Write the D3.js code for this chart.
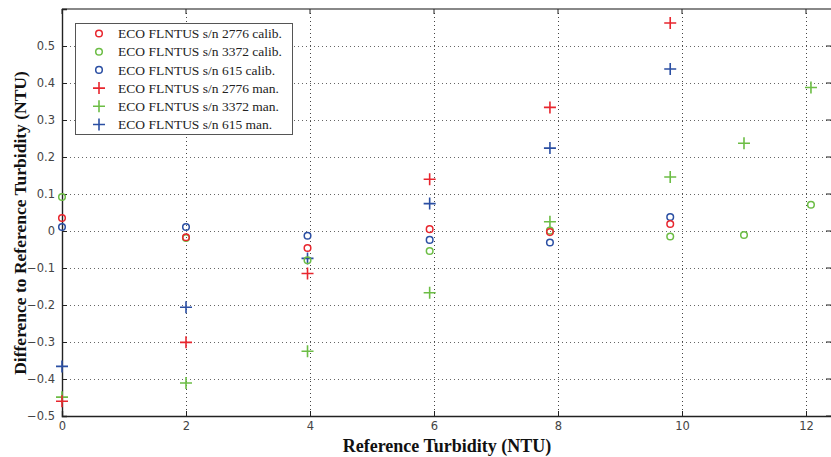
<!DOCTYPE html>
<html>
<head>
<meta charset="utf-8">
<script src="https://cdn.jsdelivr.net/npm/d3@7"></script>
<style>
  body { margin: 0; background: #fff; }
  svg { display: block; }
</style>
</head>
<body>
<svg id="chart" width="831" height="457"></svg>
<script>
// reference turbidity (x) and difference values (y)
var calib2776 = [[0, 0.035], [2, -0.017], [3.96, -0.046], [5.93, 0.005], [7.87, -0.003], [9.81, 0.019]];
var calib3372 = [[0, 0.092], [2, -0.019], [3.96, -0.079], [5.93, -0.054], [7.87, 0.001], [9.81, -0.015], [11.0, -0.011], [12.08, 0.071]];
var calib615  = [[0, 0.011], [2, 0.011], [3.96, -0.013], [5.93, -0.024], [7.87, -0.031], [9.81, 0.038]];
var man2776   = [[0, -0.46], [2, -0.301], [3.96, -0.115], [5.93, 0.140], [7.87, 0.334], [9.81, 0.562]];
var man3372   = [[0, -0.449], [2, -0.411], [3.96, -0.325], [5.93, -0.167], [7.87, 0.025], [9.81, 0.146], [11.0, 0.237], [12.08, 0.388]];
var man615    = [[0, -0.366], [2, -0.206], [3.96, -0.074], [5.93, 0.074], [7.87, 0.224], [9.81, 0.438]];

var xTicks = [0, 2, 4, 6, 8, 10, 12];
var yTicks = [-0.5, -0.4, -0.3, -0.2, -0.1, 0, 0.1, 0.2, 0.3, 0.4, 0.5];

var red = "#e8262e", green = "#6cbd45", blue = "#2b4fa3";

var series = [
  {name: "ECO FLNTUS s/n 2776 calib.", data: calib2776, color: red, shape: "o"},
  {name: "ECO FLNTUS s/n 3372 calib.", data: calib3372, color: green, shape: "o"},
  {name: "ECO FLNTUS s/n 615 calib.", data: calib615, color: blue, shape: "o"},
  {name: "ECO FLNTUS s/n 2776 man.", data: man2776, color: red, shape: "+"},
  {name: "ECO FLNTUS s/n 3372 man.", data: man3372, color: green, shape: "+"},
  {name: "ECO FLNTUS s/n 615 man.", data: man615, color: blue, shape: "+"}
];

(function() {
  var svg = d3.select("#chart");
  var mLeft = 62, mRight = 837, mTop = 9, mBottom = 416;

  var x = d3.scaleLinear().domain([0, 12.5]).range([mLeft, mRight]);
  var y = d3.scaleLinear().domain([-0.5, 0.6]).range([mBottom, mTop]);

  var g = svg.append("g");

  // dotted grid
  g.selectAll(".gx").data(xTicks.filter(function(d) { return d > 0; })).enter().append("line")
    .attr("x1", function(d) { return Math.round(x(d)) + 0.5; }).attr("x2", function(d) { return Math.round(x(d)) + 0.5; })
    .attr("y1", mTop).attr("y2", mBottom)
    .attr("stroke", "#444").attr("stroke-width", 1).attr("stroke-dasharray", "1,3");
  g.selectAll(".gy").data(yTicks.filter(function(d) { return d > -0.5; })).enter().append("line")
    .attr("x1", mLeft).attr("x2", 831)
    .attr("y1", function(d) { return Math.round(y(d)) + 0.5; }).attr("y2", function(d) { return Math.round(y(d)) + 0.5; })
    .attr("stroke", "#666").attr("stroke-width", 1).attr("stroke-dasharray", "1,3");

  // frame top
  g.append("line").attr("x1", mLeft).attr("x2", 831).attr("y1", mTop).attr("y2", mTop)
    .attr("stroke", "#888").attr("stroke-width", 2);

  var xAxis = d3.axisBottom(x).tickValues(xTicks).tickSize(-5).tickPadding(6).tickFormat(d3.format("d"));
  var yAxis = d3.axisLeft(y).tickValues(yTicks).tickSize(-5).tickPadding(7)
    .tickFormat(function(d) { return d === 0 ? "0" : d3.format(".1f")(d); });

  function styleAxis(sel) {
    sel.select(".domain").attr("stroke", "#222").attr("stroke-width", 1.4);
    sel.selectAll(".tick line").attr("stroke", "#222");
    sel.selectAll("text").attr("font-family", "DejaVu Sans, sans-serif").attr("font-size", 11.5).attr("fill", "#444");
  }

  g.append("g").attr("transform", "translate(0," + mBottom + ")").call(xAxis).call(styleAxis);
  g.append("g").attr("transform", "translate(" + mLeft + ",0)").call(yAxis).call(styleAxis);

  // top ticks
  g.selectAll(".tt").data(xTicks).enter().append("line")
    .attr("x1", function(d) { return x(d); }).attr("x2", function(d) { return x(d); })
    .attr("y1", mTop).attr("y2", mTop + 5).attr("stroke", "#222");
  // right ticks (box edge just off the picture)
  g.selectAll(".rt").data(yTicks).enter().append("line")
    .attr("x1", 826).attr("x2", 831)
    .attr("y1", function(d) { return y(d); }).attr("y2", function(d) { return y(d); })
    .attr("stroke", "#222");

  function drawMarker(sel, shape, color) {
    if (shape === "o") {
      sel.append("circle").attr("r", 3.3).attr("fill", "none").attr("stroke", color).attr("stroke-width", 1.5);
    } else {
      sel.append("path").attr("d", "M-6,0H6M0,-6V6").attr("stroke", color).attr("stroke-width", 1.6);
    }
  }

  // points, pluses first so circles sit on top
  series.slice().reverse().forEach(function(s) {
    g.selectAll(null).data(s.data).enter().append("g")
      .attr("transform", function(d) { return "translate(" + x(d[0]) + "," + y(d[1]) + ")"; })
      .each(function() { drawMarker(d3.select(this), s.shape, s.color); });
  });

  // legend
  var lg = svg.append("g");
  lg.append("rect").attr("x", 75.5).attr("y", 23.5).attr("width", 217).attr("height", 111)
    .attr("fill", "#fff").attr("stroke", "#555").attr("stroke-width", 1);
  series.forEach(function(s, i) {
    var yy = 33.5 + i * 18.2;
    var m = lg.append("g").attr("transform", "translate(99," + yy + ")");
    drawMarker(m, s.shape, s.color);
    lg.append("text").attr("x", 118).attr("y", yy + 4.7)
      .attr("font-family", "Liberation Serif, Times New Roman, serif").attr("font-size", 13.5)
      .attr("fill", "#222").text(s.name);
  });

  // axis titles
  svg.append("text").attr("x", 447).attr("y", 452).attr("text-anchor", "middle")
    .attr("font-family", "Liberation Serif, Times New Roman, serif").attr("font-weight", "bold")
    .attr("font-size", 18).attr("fill", "#111").text("Reference Turbidity (NTU)");
  svg.append("text").attr("transform", "translate(26,223) rotate(-90)").attr("text-anchor", "middle")
    .attr("font-family", "Liberation Serif, Times New Roman, serif").attr("font-weight", "bold")
    .attr("font-size", 17.5).attr("fill", "#111").text("Difference to Reference Turbidity (NTU)");
})();
</script>
</body>
</html>
